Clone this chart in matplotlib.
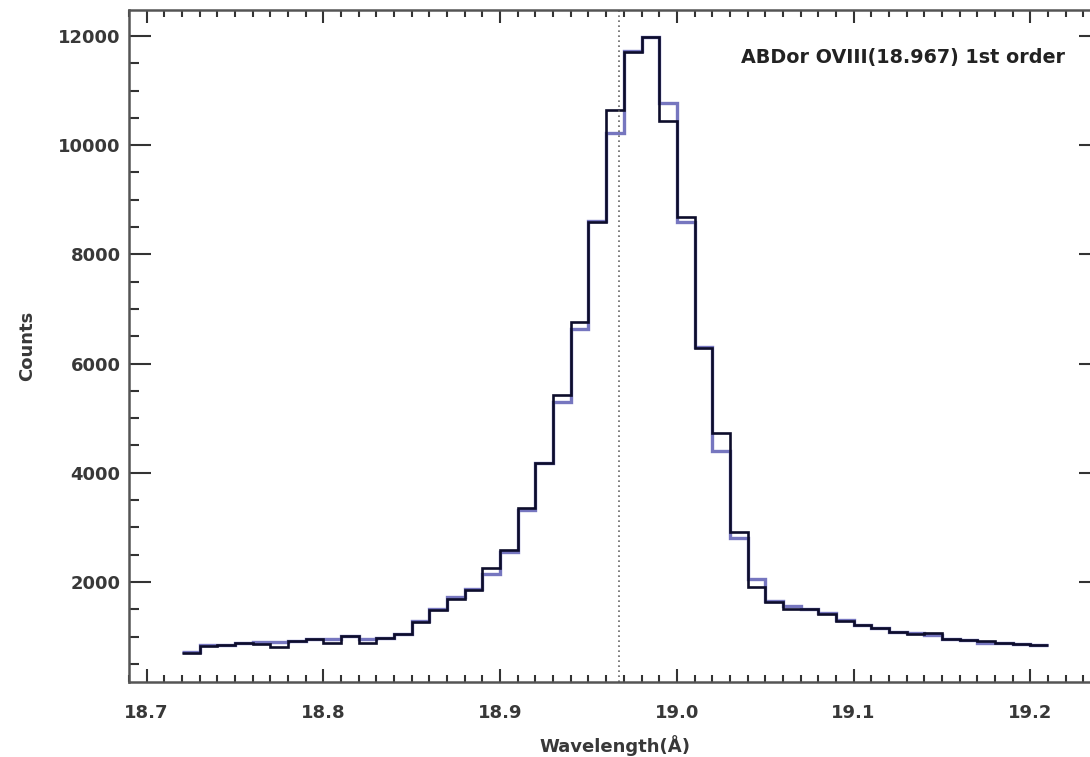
import numpy as np
import matplotlib
matplotlib.use("Agg")
import matplotlib.pyplot as plt
from matplotlib.ticker import MultipleLocator

# Bin edges (Angstrom)
edges = np.round(np.arange(18.72, 19.2101, 0.01), 3)

# Observed counts (black)
counts_obs = [700, 830, 845, 875, 865, 805, 920, 955, 875, 1010,
              875, 970, 1050, 1270, 1490, 1690, 1860, 2250, 2590, 3350,
              4180, 5420, 6760, 8600, 10650, 11710, 11980, 10440, 8690, 6290,
              4720, 2920, 1910, 1640, 1500, 1500, 1420, 1280, 1210, 1150,
              1090, 1050, 1060, 955, 940, 920, 890, 865, 845]

# Model counts (blue)
counts_model = [720, 840, 850, 880, 905, 905, 920, 955, 950, 1010,
                950, 970, 1050, 1280, 1500, 1720, 1880, 2140, 2540, 3320,
                4170, 5300, 6630, 8620, 10220, 11720, 11980, 10780, 8600, 6310,
                4400, 2800, 2050, 1660, 1560, 1500, 1430, 1300, 1210, 1150,
                1090, 1060, 1020, 955, 940, 880, 890, 865, 845]

line_center = 18.967
label_text = "ABDor OVIII(18.967) 1st order"

plt.rcParams['font.family'] = ['DejaVu Sans']

fig = plt.figure(figsize=(10.90, 7.57), dpi=100)
ax = fig.add_axes([129/1090, 1 - 682/757, 972/1090, 672/757])

ax.stairs(counts_model, edges, color='#7676bf', linewidth=2.4, baseline=None)
ax.stairs(counts_obs, edges, color='#0d0d2b', linewidth=1.9, baseline=None)
ax.axvline(line_center, color='#666666', linestyle=(0, (1, 2)), linewidth=1.2)

ax.set_xlim(18.69, 19.24)
ax.set_ylim(168, 12476)

ax.xaxis.set_major_locator(MultipleLocator(0.1))
ax.xaxis.set_minor_locator(MultipleLocator(0.01))
ax.yaxis.set_major_locator(MultipleLocator(2000))
ax.yaxis.set_minor_locator(MultipleLocator(500))
ax.xaxis.set_major_formatter(matplotlib.ticker.FormatStrFormatter('%.1f'))
ax.yaxis.set_major_formatter(matplotlib.ticker.FormatStrFormatter('%d'))

ax.tick_params(axis='x', which='both', direction='in', top=True, bottom=True,
               color='#333333', width=1.5)
ax.tick_params(axis='x', which='major', length=9.5, pad=16, labelsize=13,
               labelcolor='#383838')
ax.tick_params(axis='x', which='minor', length=5)
ax.tick_params(axis='y', which='both', direction='in', left=True, right=True,
               color='#333333', width=1.5)
ax.tick_params(axis='y', which='major', length=15.5, pad=6, labelsize=13,
               labelcolor='#383838')
ax.tick_params(axis='y', which='minor', length=7)
for lab in ax.get_xticklabels() + ax.get_yticklabels():
    lab.set_fontweight('bold')

for s in ax.spines.values():
    s.set_linewidth(1.8)
    s.set_color('#555555')

ax.set_xlabel("Wavelength(Å)", fontsize=13, fontweight='bold', color='#383838',
              labelpad=9)
ax.set_ylabel("Counts", fontsize=13, fontweight='bold', color='#383838',
              labelpad=16)

ax.text(0.63, 0.93, label_text, transform=ax.transAxes, fontsize=13.8,
        fontweight='bold', color='#222222', ha='left', va='center')

fig.savefig("out.png", dpi=100)
